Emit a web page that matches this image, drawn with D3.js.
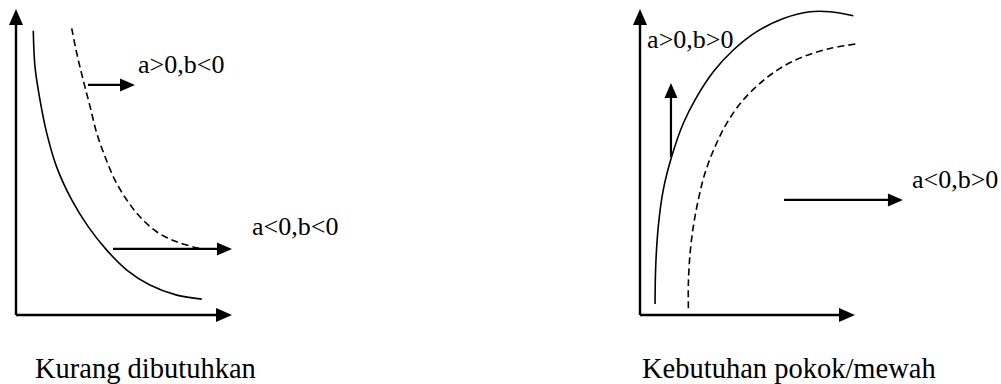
<!DOCTYPE html>
<html>
<head>
<meta charset="utf-8">
<script src="https://cdn.jsdelivr.net/npm/d3@7"></script>
<style>
  body { margin: 0; background: #fff; }
</style>
</head>
<body>
<svg id="chart" width="1001" height="384"></svg>
<script>
// Panel captions
const captions = ['Kurang dibutuhkan', 'Kebutuhan pokok/mewah']

// Left panel: curve shifting (a>0,b<0 / a<0,b<0)
const leftSolid = [[8.0, 92.9], [8.8, 81.1], [11.1, 70.3], [14.2, 59.5], [18.8, 48.4], [25.8, 37.6], [33.5, 28.8], [42.0, 21.2], [51.3, 14.7], [62.0, 9.8], [74.4, 6.5], [86.0, 5.2]]
const leftDashed = [[25.8, 93.7], [27.8, 86.6], [29.6, 81.1], [31.9, 74.6], [34.3, 68.1], [37.4, 59.4], [41.2, 51.8], [45.8, 44.1], [51.3, 37.6], [57.4, 32.1], [65.1, 27.2], [74.4, 23.9], [85.2, 21.7]]
const leftArrows = [[[33.3, 75.2], [55.1, 75.2]], [[44.9, 21.6], [100, 21.6]]]
const leftLabels = [{ text: 'a>0,b<0', pos: [56.5, 79.1] }, { text: 'a<0,b<0', pos: [109.3, 26.1] }]

// Right panel: curve shifting (a>0,b>0 / a<0,b>0)
const rightSolid = [[7.0, 3.6], [7.3, 15.8], [8.5, 28.9], [10.8, 40.8], [14.7, 51.7], [20.1, 62.6], [26.4, 71.3], [34.1, 79.5], [43.4, 86.6], [54.3, 92.6], [66.7, 96.9], [79.1, 99.1], [88.4, 99.1], [99.2, 97.8]]
const rightDashed = [[22.5, 2.2], [22.5, 10.4], [23.3, 20.2], [24.8, 28.9], [27.1, 37.6], [30.2, 46.3], [34.9, 55.0], [40.3, 62.6], [47.3, 69.7], [55.8, 75.7], [65.1, 80.6], [75.9, 84.4], [88.4, 87.1], [100.8, 88.6]]
const rightArrows = [[[14.4, 51.6], [14.4, 75.8]], [[67.0, 37.6], [122.3, 37.6]]]
const rightLabels = [{ text: 'a>0,b>0', pos: [3.3, 87.3] }, { text: 'a<0,b>0', pos: [126.5, 41.5] }]

const FONT = '"Liberation Serif", "Times New Roman", "DejaVu Serif", serif'
const svg = d3.select('#chart')

const panels = [
  { x0: 16, x1: 232, solid: leftSolid, dashed: leftDashed, arrows: leftArrows, labels: leftLabels, caption: captions[0], capX: 35 },
  { x0: 640, x1: 855, solid: rightSolid, dashed: rightDashed, arrows: rightArrows, labels: rightLabels, caption: captions[1], capX: 642 }
]

/**
 * Draws a line with a filled triangular head at its end point.
 */
function arrow (g, p0, p1, len, half, width) {
  const dx = p1[0] - p0[0]
  const dy = p1[1] - p0[1]
  const d = Math.hypot(dx, dy)
  const ux = dx / d
  const uy = dy / d
  const bx = p1[0] - ux * len
  const by = p1[1] - uy * len
  g.append('line')
    .attr('x1', p0[0]).attr('y1', p0[1])
    .attr('x2', bx + ux * 1).attr('y2', by + uy * 1)
    .attr('stroke', '#000')
    .attr('stroke-width', width)
  g.append('path')
    .attr('d', `M${p1[0]},${p1[1]}L${bx - uy * half},${by + ux * half}L${bx + uy * half},${by - ux * half}Z`)
    .attr('fill', '#000')
}

panels.forEach(p => {
  const x = d3.scaleLinear().domain([0, 100]).range([p.x0, p.x1])
  const y = d3.scaleLinear().domain([0, 100]).range([315, 9])
  const g = svg.append('g')

  // Axes with arrow tips
  arrow(g, [x(0), y(0)], [x(0), y(100)], 16, 7, 2.4)
  arrow(g, [x(0), y(0)], [x(100), y(0)], 16, 7, 2.4)

  const line = d3.line()
    .x(d => x(d[0]))
    .y(d => y(d[1]))
    .curve(d3.curveCatmullRom.alpha(0.5))

  g.append('path')
    .datum(p.solid)
    .attr('d', line)
    .attr('fill', 'none')
    .attr('stroke', '#000')
    .attr('stroke-width', 1.6)

  g.append('path')
    .datum(p.dashed)
    .attr('d', line)
    .attr('fill', 'none')
    .attr('stroke', '#000')
    .attr('stroke-width', 1.6)
    .attr('stroke-dasharray', '7,4')

  p.arrows.forEach(a => {
    arrow(g, [x(a[0][0]), y(a[0][1])], [x(a[1][0]), y(a[1][1])], 15, 6.5, 2.2)
  })

  g.selectAll('text.lbl')
    .data(p.labels)
    .join('text')
    .attr('class', 'lbl')
    .attr('x', d => x(d.pos[0]))
    .attr('y', d => y(d.pos[1]))
    .attr('font-family', FONT)
    .attr('font-size', 26)
    .attr('fill', '#000')
    .text(d => d.text)

  g.append('text')
    .attr('x', p.capX)
    .attr('y', 378)
    .attr('font-family', FONT)
    .attr('font-size', 28.5)
    .attr('fill', '#000')
    .text(p.caption)
})
</script>
</body>
</html>
